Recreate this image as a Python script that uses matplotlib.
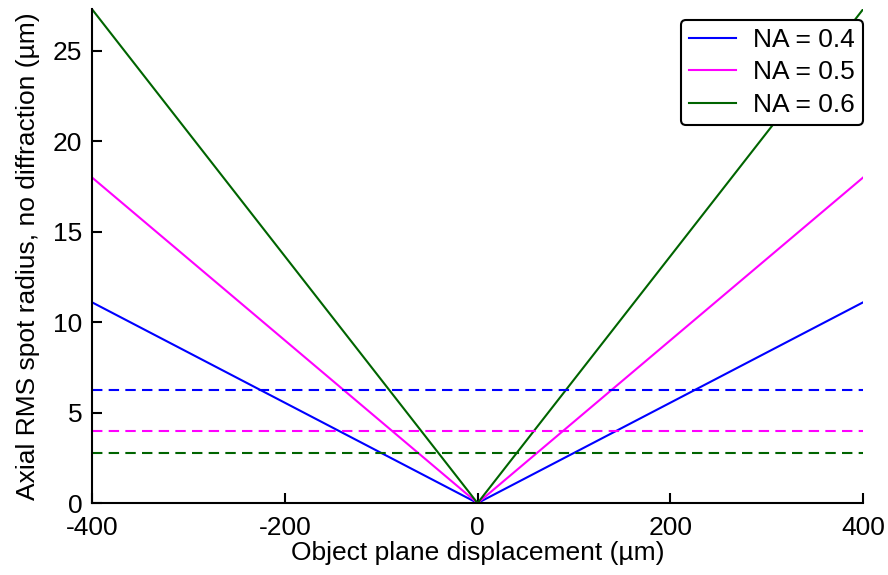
import matplotlib.pyplot as plt

plt.rcParams["font.family"] = ["Liberation Sans", "DejaVu Sans"]
plt.rcParams["axes.unicode_minus"] = False

# object plane displacement (um)
displacement = [-400, 0, 400]

# axial RMS spot radius for each numerical aperture
na_labels = ["NA = 0.4", "NA = 0.5", "NA = 0.6"]
rms_na04 = [11.1, 0.0, 11.1]
rms_na05 = [18.0, 0.0, 18.0]
rms_na06 = [27.3, 0.0, 27.3]

# diffraction-limited spot radius for each NA
diffraction_radius = [6.25, 4.0, 2.77]

colors = ["#0000ff", "#ff00ff", "#006400"]

fig = plt.figure(figsize=(8.88, 5.75), dpi=100)
ax = fig.add_axes([0.1036, 0.125, 0.8684, 0.859])

for rms, label, color in zip([rms_na04, rms_na05, rms_na06], na_labels, colors):
    ax.plot(displacement, rms, color=color, lw=1.5, label=label)

for r, color in zip(diffraction_radius, colors):
    ax.plot([displacement[0], displacement[-1]], [r, r], color=color, lw=1.5,
            ls=(0, (5, 3)))

ax.set_xlim(displacement[0], displacement[-1])
ax.set_ylim(0, max(rms_na06))
ax.set_xticks([-400, -200, 0, 200, 400])
ax.set_yticks([0, 5, 10, 15, 20, 25])

ax.spines["top"].set_visible(False)
ax.spines["right"].set_visible(False)
ax.spines["left"].set_linewidth(1.5)
ax.spines["bottom"].set_linewidth(1.5)
ax.tick_params(direction="in", length=7, width=1.5, labelsize=19)
ax.tick_params(axis="x", pad=9)
ax.tick_params(axis="y", pad=7)

ax.set_xlabel("Object plane displacement (µm)", fontsize=19, labelpad=1)
ax.set_ylabel("Axial RMS spot radius, no diffraction (µm)", fontsize=19, labelpad=9)

leg = ax.legend(loc="upper right", bbox_to_anchor=(1.0, 0.978), borderaxespad=0,
                fontsize=19, fancybox=True, framealpha=1, handlelength=1.8,
                handletextpad=0.65, labelspacing=0.32, borderpad=0.3)
leg.get_frame().set_edgecolor("black")
leg.get_frame().set_linewidth(1.5)

fig.savefig("out.png", dpi=100)
